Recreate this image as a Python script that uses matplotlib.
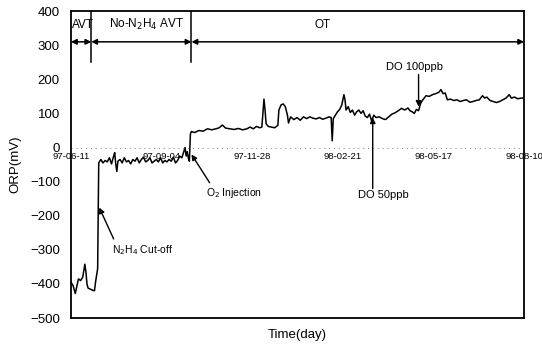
import datetime as dt
import matplotlib
matplotlib.use("Agg")
from matplotlib import pyplot as plt

plt.rcParams['font.family'] = ['Liberation Sans', 'DejaVu Sans']

# data: days since 97-06-11, ORP (mV)
start = dt.date(1997, 6, 11)
days = [0, 2, 4, 6, 7, 9, 11, 12, 13, 14, 15, 16, 18, 20, 22, 23, 24, 25,
        26, 27, 28, 30, 32, 34, 36, 38, 40, 41, 42, 43, 44, 46, 48, 50, 52, 54,
        56, 58, 60, 62, 64, 66, 68, 70, 72, 74, 76, 78, 80, 82, 84, 86, 88, 90,
        92, 94, 96, 98, 100, 102, 104, 106, 107, 108, 109, 110, 111, 112, 113,
        116, 120, 124, 128, 132, 136, 139, 142, 145, 149, 153, 157, 161, 165,
        168, 171, 174, 177, 179, 180, 181, 182, 183, 185, 188, 191, 194, 195,
        197, 199, 201, 203, 204, 206, 209, 212, 215, 218, 221, 224, 227, 230,
        233, 236, 239, 242, 244, 245, 246, 248, 250, 252, 254, 256, 257, 258,
        260, 262, 264, 266, 268, 270, 272, 274, 276, 278, 280, 282, 284, 286,
        289, 292, 295, 298, 301, 304, 307, 310, 313, 316, 318, 320, 322, 324,
        326, 328, 330, 333, 336, 339, 342, 345, 347, 349, 351, 353, 356, 359,
        362, 365, 368, 371, 374, 377, 380, 383, 386, 388, 390, 393, 396, 399,
        402, 405, 408, 411, 413, 416, 419, 422, 425]
orp = [-395, -405, -428, -400, -385, -390, -380, -360, -342, -365, -400, -412,
       -415, -418, -420, -395, -375, -355,
       -45, -40, -35, -45, -38, -42, -30, -48, -25, -15, -50, -70, -40, -35,
       -45, -30, -42, -38, -48, -35, -40, -30, -45, -35, -28, -42, -38, -30,
       -45, -40, -35, -42, -30, -45, -38, -42, -35, -40, -28, -45, -38, -25,
       -30, -10, 0, -25, -12, -30, -40, 40, 47,
       44, 50, 48, 55, 52, 55, 58, 66, 57, 55, 53, 56, 52, 55, 60, 55, 62, 58,
       60, 100, 142, 110, 70, 62, 60, 58, 65, 110, 125, 128, 120, 95, 72, 90,
       82, 88, 80, 90, 85, 90, 86, 84, 88, 83, 86, 90, 88, 20, 85, 95, 105,
       112, 125, 155, 140, 110, 120, 103, 110, 95, 105, 110, 100, 108, 92, 88,
       98, 78, 95, 88, 90, 85, 82, 90, 98, 102, 108, 115, 110, 116, 108, 105,
       100, 112, 108, 130, 140, 152, 150, 155, 158, 162, 170, 158, 160, 140,
       142, 138, 140, 135, 138, 140, 133, 135, 138, 140, 152, 145, 148, 138,
       135, 132, 135, 140, 145, 155, 145, 148, 143, 145, 145]

tick_dates = [dt.date(1997, 6, 11), dt.date(1997, 9, 4), dt.date(1997, 11, 28),
              dt.date(1998, 2, 21), dt.date(1998, 5, 17), dt.date(1998, 8, 10)]
tick_labels = ["97-06-11", "97-09-04", "97-11-28", "98-02-21", "98-05-17", "98-08-10"]

# operating periods (day boundaries)
period_edges = [0, 19, 113, 425]
period_names = ["AVT", "No-N$_2$H$_4$ AVT", "OT"]

fig = plt.figure(figsize=(5.42, 3.48), dpi=100)
ax = fig.add_axes([0.131, 0.086, 0.836, 0.882])

ax.plot(days, orp, color="black", lw=1.1)
ax.axhline(0, color="gray", ls=(0, (1, 4)), lw=0.7)

ax.set_xlim(0, 425)
ax.set_ylim(-500, 400)
ax.set_yticks(range(-500, 401, 100))
ax.tick_params(axis='y', length=0, labelsize=9.5, pad=8)
ax.set_xticks([])
for s in ax.spines.values():
    s.set_linewidth(1.3)

# date labels sit under the zero line
for d, lab in zip(tick_dates, tick_labels):
    x = (d - start).days
    ax.text(x, -27, lab, ha="center", va="center", fontsize=6.8, clip_on=False)

ax.set_xlabel("Time(day)", fontsize=9.5, labelpad=8)
ax.set_ylabel("ORP(mV)", fontsize=9.5, labelpad=6)

# period markers
for e in period_edges[1:3]:
    ax.plot([e, e], [400, 250], color="black", lw=1.1)
for i, name in enumerate(period_names):
    x0, x1 = period_edges[i], period_edges[i + 1]
    ax.annotate("", xy=(x0, 310), xytext=(x1, 310),
                arrowprops=dict(arrowstyle="<|-|>", color="black", lw=1.1,
                                mutation_scale=8, shrinkA=0, shrinkB=0))
ax.text(1, 360, period_names[0], ha="left", va="center", fontsize=8.5)
ax.text(71, 362, period_names[1], ha="center", va="center", fontsize=8.5)
ax.text(236, 360, period_names[2], ha="center", va="center", fontsize=8.5)

# event annotations
arw = dict(arrowstyle="-|>", color="black", lw=1.0, mutation_scale=8,
           shrinkA=0, shrinkB=0)
ax.annotate("", xy=(26.5, -176), xytext=(40, -268), arrowprops=arw)
ax.text(38, -300, "N$_2$H$_4$ Cut-off", ha="left", va="center", fontsize=7.5)
ax.annotate("", xy=(113, -20), xytext=(130, -103), arrowprops=arw)
ax.text(127, -132, "O$_2$ Injection", ha="left", va="center", fontsize=7.5)
ax.annotate("", xy=(283, 88), xytext=(283, -120), arrowprops=arw)
ax.text(293, -138, "DO 50ppb", ha="center", va="center", fontsize=8)
ax.annotate("", xy=(326, 120), xytext=(326, 214), arrowprops=arw)
ax.text(322, 236, "DO 100ppb", ha="center", va="center", fontsize=8)

fig.savefig("out.png", dpi=100)
